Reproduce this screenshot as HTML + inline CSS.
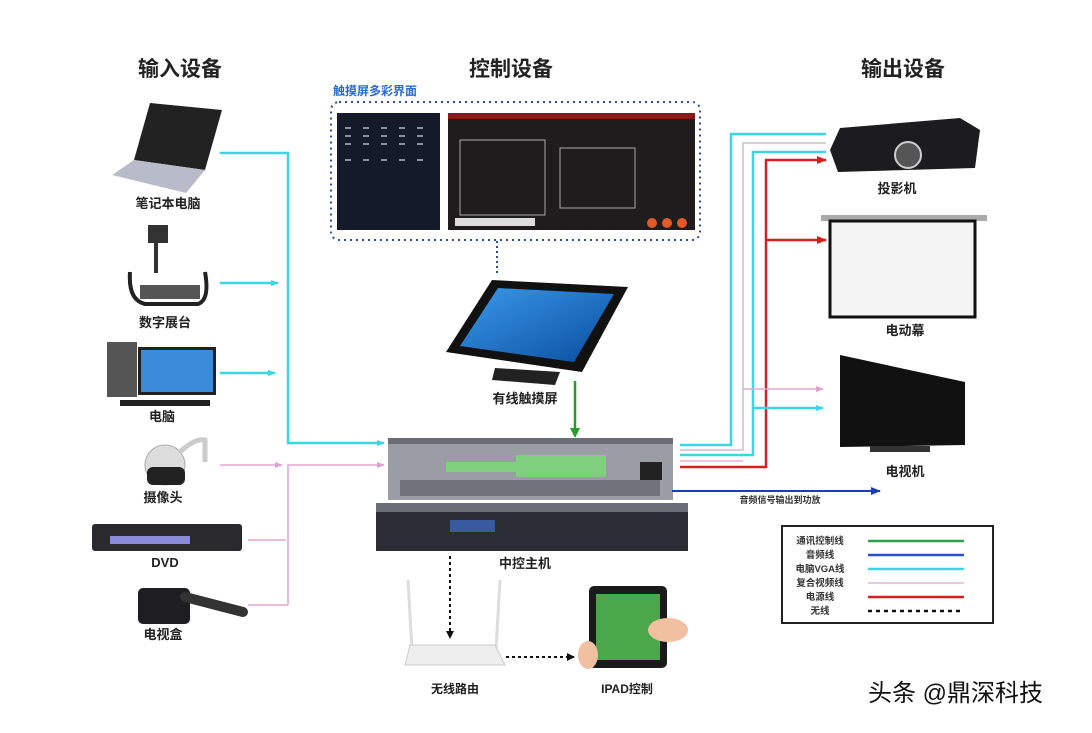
<!DOCTYPE html>
<html><head><meta charset="utf-8"><style>
body{margin:0;background:#fff;}
svg text{font-family:"Liberation Sans","Noto Sans CJK SC",sans-serif;}
</style></head><body>
<svg width="1092" height="728" viewBox="0 0 1092 728" xmlns="http://www.w3.org/2000/svg">
<defs>
<marker id="ac" markerWidth="8" markerHeight="8" refX="7" refY="4" orient="auto" markerUnits="userSpaceOnUse"><path d="M0,1 L8,4 L0,7z" fill="#3dd6e0"/></marker>
<marker id="ap" markerWidth="8" markerHeight="8" refX="7" refY="4" orient="auto" markerUnits="userSpaceOnUse"><path d="M0,1 L8,4 L0,7z" fill="#e0a0d0"/></marker>
<marker id="ar" markerWidth="10" markerHeight="10" refX="9" refY="5" orient="auto" markerUnits="userSpaceOnUse"><path d="M0,1 L10,5 L0,9z" fill="#d42020"/></marker>
<marker id="ab" markerWidth="10" markerHeight="10" refX="9" refY="5" orient="auto" markerUnits="userSpaceOnUse"><path d="M0,1 L10,5 L0,9z" fill="#1a3fb0"/></marker>
<marker id="ak" markerWidth="8" markerHeight="8" refX="7" refY="4" orient="auto" markerUnits="userSpaceOnUse"><path d="M0,0 L8,4 L0,8z" fill="#111"/></marker>
<linearGradient id="scr" x1="0" y1="0" x2="1" y2="1"><stop offset="0" stop-color="#3a9ae8"/><stop offset="1" stop-color="#0a4ca0"/></linearGradient>
</defs>

<g font-size="21" font-weight="bold" fill="#222">
<text x="180" y="76" text-anchor="middle">输入设备</text>
<text x="511" y="76" text-anchor="middle">控制设备</text>
<text x="903" y="76" text-anchor="middle">输出设备</text>
</g>

<g fill="none" stroke-width="2.5">
<path d="M220,153 H288 V443 H384" stroke="#3dd6e0" marker-end="url(#ac)"/>
<path d="M220,283 H278" stroke="#3dd6e0" marker-end="url(#ac)"/>
<path d="M220,373 H275" stroke="#3dd6e0" marker-end="url(#ac)"/>
</g>
<g fill="none" stroke="#e6a6d6" stroke-width="1.6">
<path d="M220,465 H282" marker-end="url(#ap)"/>
<path d="M288,605 V465 H384" marker-end="url(#ap)"/>
<path d="M248,540 H286"/>
<path d="M248,605 H288"/>
</g>

<polygon points="150,103 222,110 205,170 134,160" fill="#222"/>
<polygon points="134,160 205,170 186,193 112,175" fill="#b8bcc8"/>
<text x="168" y="208" font-size="13" font-weight="bold" text-anchor="middle" fill="#222">笔记本电脑</text>
<rect x="148" y="225" width="20" height="18" fill="#333"/>
<rect x="154" y="243" width="4" height="30" fill="#333"/>
<path d="M130,272 Q128,300 145,304 H198 Q210,300 205,272" fill="none" stroke="#222" stroke-width="4"/>
<rect x="140" y="285" width="60" height="14" fill="#555"/>
<text x="165" y="327" font-size="13" font-weight="bold" text-anchor="middle" fill="#222">数字展台</text>
<rect x="107" y="342" width="30" height="55" fill="#555"/>
<rect x="138" y="347" width="78" height="48" fill="#222"/>
<rect x="141" y="350" width="72" height="42" fill="#3a8ad8"/>
<rect x="120" y="400" width="90" height="6" fill="#222"/>
<text x="162" y="421" font-size="13" font-weight="bold" text-anchor="middle" fill="#222">电脑</text>
<circle cx="165" cy="465" r="20" fill="#ddd" stroke="#aaa"/>
<rect x="147" y="467" width="38" height="18" rx="6" fill="#222"/>
<path d="M180,452 Q195,438 205,440 V462" fill="none" stroke="#ccc" stroke-width="5"/>
<text x="163" y="502" font-size="13" font-weight="bold" text-anchor="middle" fill="#222">摄像头</text>
<rect x="92" y="524" width="150" height="27" rx="3" fill="#2a2a2e"/>
<rect x="110" y="536" width="80" height="8" fill="#8a8ad8"/>
<text x="165" y="567" font-size="13" font-weight="bold" text-anchor="middle" fill="#222">DVD</text>
<rect x="138" y="588" width="52" height="36" rx="5" fill="#1e1e22"/>
<path d="M185,597 L243,612" stroke="#333" stroke-width="10" stroke-linecap="round"/>
<text x="163" y="639" font-size="13" font-weight="bold" text-anchor="middle" fill="#222">电视盒</text>

<text x="333" y="95" font-size="12" font-weight="bold" fill="#2a6bd0">触摸屏多彩界面</text>
<rect x="331" y="102" width="369" height="138" rx="8" fill="none" stroke="#2b4f9a" stroke-width="2" stroke-dasharray="2,4"/>
<rect x="337" y="113" width="103" height="117" fill="#141a2a"/>
<g stroke="#8a90a0" stroke-width="2"><line x1="345" y1="128" x2="432" y2="128" stroke-dasharray="6,12"/><line x1="345" y1="136" x2="432" y2="136" stroke-dasharray="6,12"/><line x1="345" y1="144" x2="432" y2="144" stroke-dasharray="6,12"/><line x1="345" y1="160" x2="432" y2="160" stroke-dasharray="6,12"/></g>
<rect x="448" y="113" width="247" height="117" fill="#1e1c1c"/>
<rect x="448" y="113" width="247" height="6" fill="#8a1a1a"/>
<rect x="460" y="140" width="85" height="75" fill="none" stroke="#aaa" stroke-width="1"/>
<rect x="560" y="148" width="75" height="60" fill="none" stroke="#aaa" stroke-width="1"/>
<rect x="455" y="218" width="80" height="8" fill="#ddd"/>
<circle cx="652" cy="223" r="5" fill="#e05a2a"/><circle cx="667" cy="223" r="5" fill="#e05a2a"/><circle cx="682" cy="223" r="5" fill="#e05a2a"/>
<line x1="497" y1="241" x2="497" y2="275" stroke="#2b4f9a" stroke-width="2" stroke-dasharray="2,3"/>

<polygon points="492,280 628,287 582,372 446,352" fill="#111"/>
<polygon points="498,288 614,294 574,362 460,346" fill="url(#scr)"/>
<polygon points="495,368 560,372 555,385 492,380" fill="#222"/>
<text x="525" y="403" font-size="13" font-weight="bold" text-anchor="middle" fill="#222">有线触摸屏</text>
<line x1="575" y1="381" x2="575" y2="436" stroke="#2a9a2a" stroke-width="2.5"/>
<path d="M570,428 L580,428 L575,438z" fill="#2a9a2a"/>

<rect x="388" y="438" width="285" height="62" fill="#9a9ea4"/>
<rect x="388" y="438" width="285" height="6" fill="#6a6e74"/>
<rect x="400" y="480" width="260" height="16" fill="#70747a"/>
<g fill="#7fcf7f"><rect x="446" y="462" width="70" height="10"/><rect x="516" y="455" width="90" height="22"/></g>
<rect x="640" y="462" width="22" height="18" fill="#222"/>
<rect x="376" y="503" width="312" height="48" fill="#2a2d34"/>
<rect x="376" y="503" width="312" height="9" fill="#6a6e76"/>
<rect x="450" y="520" width="45" height="12" fill="#3a5aa0"/>
<text x="525" y="568" font-size="13" font-weight="bold" text-anchor="middle" fill="#222">中控主机</text>

<g fill="none" stroke-width="2.5">
<path d="M680,445 H731 V134 H826" stroke="#3dd6e0"/>
<path d="M680,450 H743 V143 H826" stroke="#c0c4cc" stroke-width="1.5"/>
<path d="M680,455 H753 V152 H826" stroke="#3dd6e0"/>
<path d="M680,461 H743" stroke="#e6b6d6" stroke-width="1.5"/>
<path d="M680,467 H766 V160 H826" stroke="#d42020" marker-end="url(#ar)"/>
<path d="M766,240 H826" stroke="#d42020" marker-end="url(#ar)"/>
<path d="M743,389 H823" stroke="#e6a6d6" stroke-width="1.5" marker-end="url(#ap)"/>
<path d="M753,408 H823" stroke="#3dd6e0" marker-end="url(#ac)"/>
<path d="M672,491 H880" stroke="#1a3fb0" stroke-width="2" marker-end="url(#ab)"/>
</g>
<text x="780" y="503" font-size="9" font-weight="bold" text-anchor="middle" fill="#333">音频信号输出到功放</text>

<polygon points="840,128 960,118 980,130 975,168 838,172 830,150" fill="#1c1c1e"/>
<circle cx="908" cy="155" r="13" fill="#555" stroke="#ccc" stroke-width="2"/>
<text x="897" y="193" font-size="13" font-weight="bold" text-anchor="middle" fill="#222">投影机</text>
<rect x="821" y="215" width="166" height="6" fill="#aaa"/>
<rect x="830" y="221" width="145" height="96" fill="#f4f4f4" stroke="#111" stroke-width="3"/>
<text x="905" y="335" font-size="13" font-weight="bold" text-anchor="middle" fill="#222">电动幕</text>
<polygon points="840,355 965,382 965,445 840,447" fill="#111"/>
<rect x="870" y="446" width="60" height="6" fill="#333"/>
<text x="905" y="476" font-size="13" font-weight="bold" text-anchor="middle" fill="#222">电视机</text>

<rect x="782" y="526" width="211" height="97" fill="#fff" stroke="#222" stroke-width="2"/>
<g font-size="9.5" font-weight="bold" fill="#333" text-anchor="middle">
<text x="820" y="544">通讯控制线</text><text x="820" y="558">音频线</text><text x="820" y="572">电脑VGA线</text>
<text x="820" y="586">复合视频线</text><text x="820" y="600">电源线</text><text x="820" y="614">无线</text>
</g>
<g stroke-width="2.5">
<line x1="868" y1="541" x2="964" y2="541" stroke="#2aa04a"/>
<line x1="868" y1="555" x2="964" y2="555" stroke="#2a4fd0"/>
<line x1="868" y1="569" x2="964" y2="569" stroke="#3dd6e0"/>
<line x1="868" y1="583" x2="964" y2="583" stroke="#e6b6d6" stroke-width="1.5"/>
<line x1="868" y1="597" x2="964" y2="597" stroke="#d42020"/>
<line x1="868" y1="611" x2="964" y2="611" stroke="#111" stroke-dasharray="4,4"/>
</g>

<line x1="450" y1="556" x2="450" y2="638" stroke="#111" stroke-width="2" stroke-dasharray="3,3" marker-end="url(#ak)"/>
<line x1="408" y1="580" x2="412" y2="650" stroke="#ddd" stroke-width="3"/>
<line x1="500" y1="580" x2="496" y2="650" stroke="#ddd" stroke-width="3"/>
<polygon points="410,645 495,645 505,665 405,665" fill="#eee" stroke="#ccc"/>
<text x="455" y="693" font-size="12" font-weight="bold" text-anchor="middle" fill="#222">无线路由</text>
<line x1="506" y1="657" x2="574" y2="657" stroke="#111" stroke-width="2" stroke-dasharray="3,3" marker-end="url(#ak)"/>
<rect x="589" y="586" width="78" height="82" rx="5" fill="#1a1a1a"/>
<rect x="596" y="594" width="64" height="66" fill="#4aa84a"/>
<ellipse cx="668" cy="630" rx="20" ry="12" fill="#f0c0a0"/>
<ellipse cx="588" cy="655" rx="10" ry="14" fill="#f0c0a0"/>
<text x="627" y="693" font-size="12" font-weight="bold" text-anchor="middle" fill="#222">IPAD控制</text>

<text x="868" y="701" font-size="24" fill="#111">头条 @鼎深科技</text>
</svg>
</body></html>
